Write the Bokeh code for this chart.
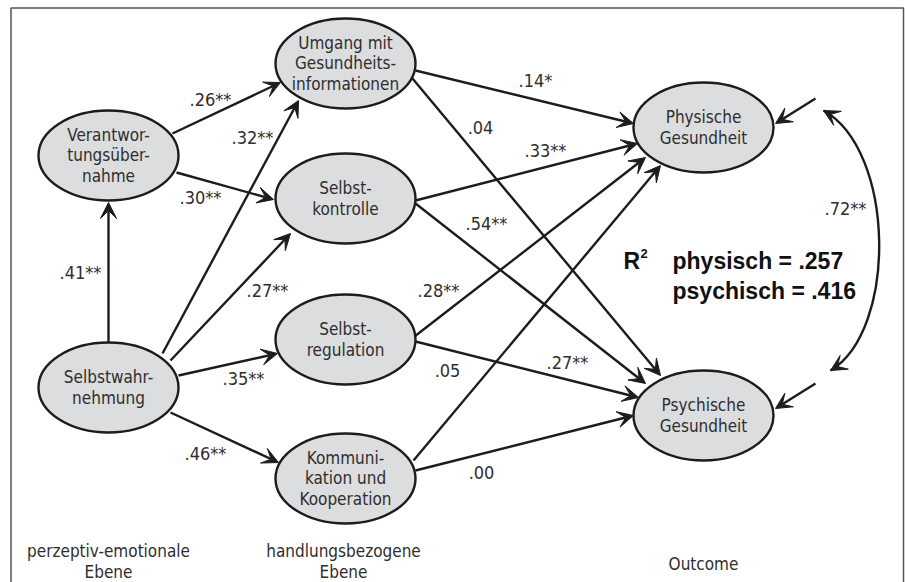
from bokeh.plotting import figure
from bokeh.models import Range1d, Arrow, VeeHead, ColumnDataSource
from bokeh.core.properties import value
from bokeh.embed import file_html
from bokeh.resources import INLINE

# ---------------- data ----------------
node_keys = ["V", "U", "K", "R", "W", "C", "P", "Q"]
node_labels = ["Verantwor-\ntungsüber-\nnahme",
               "Umgang mit\nGesundheits-\ninformationen",
               "Selbst-\nkontrolle",
               "Selbst-\nregulation",
               "Selbstwahr-\nnehmung",
               "Kommuni-\nkation und\nKooperation",
               "Physische\nGesundheit",
               "Psychische\nGesundheit"]
path_from = ["W", "V", "V", "W", "W", "W", "W", "U", "U", "K", "K", "R", "R", "C", "C"]
path_to = ["V", "U", "K", "U", "K", "R", "C", "P", "Q", "P", "Q", "P", "Q", "P", "Q"]
path_coef = [".41**", ".26**", ".30**", ".32**", ".27**", ".35**", ".46**",
             ".14*", ".04", ".33**", ".54**", ".28**", ".27**", ".05", ".00"]
correlation_coef = ".72**"
r2_title = ["R", "2"]
r2_labels = ["physisch = .257", "psychisch = .416"]
level_labels = ["perzeptiv-emotionale\nEbene", "handlungsbezogene\nEbene", "Outcome"]

# ---------------- layout (screen pixels) ----------------
node_pos = {"V": (108, 155), "U": (345, 63), "K": (345, 198), "R": (345, 339),
            "W": (108, 387), "C": (345, 478), "P": (703, 127), "Q": (703, 415)}
NODE_W, NODE_H = 140, 90
# anchor offsets (start on source ellipse, end on target ellipse)
edge_off = [((0, -45), (0, 47)), ((64, -22), (-65, 19)), ((68, 17), (-72, 1)),
            ((54, -34), (-47, 37)), ((62, -27), (-55, 35)), ((70, -12), (-68, 14)),
            ((62, 25), (-67, -16)), ((70, 7), (-70, -4)), ((67, 15), (-43, -40)),
            ((70, 2), (-66, 16)), ((70, 5), (-58, -32)), ((69, -3), (-58, 30)),
            ((70, 2), (-65, -18)), ((68, -18), (-43, 38)), ((70, -8), (-70, 0))]
coef_pos = [(80, 272), (210, 99), (200, 197), (252, 137), (267, 290), (243, 378),
            (205, 453), (535, 80), (480, 127), (545, 150), (486, 223), (438, 290),
            (567, 362), (447, 370), (481, 472)]
level_pos = [(108, 561), (343, 561), (703, 563)]

FONT = value("DejaVu Sans Condensed")
INK = "#1c1c1c"
TXT = "#2e2e2e"

p = figure(width=905, height=582, x_range=Range1d(0, 905), y_range=Range1d(582, 0),
           output_backend="svg", toolbar_location=None, min_border=0,
           x_axis_location=None, y_axis_location=None)
p.grid.visible = False
p.outline_line_color = None
p.background_fill_color = "white"

# frame
p.line([10.5, 10.5, 903, 903], [582, 7.5, 7.5, 582], line_color="#555555", line_width=1.5)

def add_arrow(x0, y0, x1, y1):
    p.add_layout(Arrow(end=VeeHead(size=16, fill_color=INK, line_color=INK, line_width=1),
                       x_start=x0, y_start=y0, x_end=x1, y_end=y1,
                       line_color=INK, line_width=2.4))

# paths
for (f, t), ((sx, sy), (ex, ey)) in zip(zip(path_from, path_to), edge_off):
    fx, fy = node_pos[f]
    tx, ty = node_pos[t]
    add_arrow(fx + sx, fy + sy, tx + ex, ty + ey)

# residual arrows
for k, (s, e) in zip(["P", "Q"], [((112, -29), (72, -4)), ((112, -32), (72, -7))]):
    cx, cy = node_pos[k]
    add_arrow(cx + s[0], cy + s[1], cx + e[0], cy + e[1])

# correlation curve between residuals
px, py = node_pos["P"]
qx, qy = node_pos["Q"]
x0, y0 = px + 120, py - 17
x3, y3 = qx + 127, qy - 45
c0 = (895, 150)
c1 = (897, 330)
p.bezier(x0=[x0], y0=[y0], x1=[x3], y1=[y3], cx0=[c0[0]], cy0=[c0[1]],
         cx1=[c1[0]], cy1=[c1[1]], line_color=INK, line_width=2.4)
for (ax, ay), (bx, by) in [((x0, y0), c0), ((x3, y3), c1)]:
    add_arrow(ax + (bx - ax) * 0.04, ay + (by - ay) * 0.04, ax, ay)

# nodes
nsrc = ColumnDataSource(dict(x=[node_pos[k][0] for k in node_keys],
                             y=[node_pos[k][1] for k in node_keys],
                             label=node_labels))
p.ellipse(x="x", y="y", width=NODE_W, height=NODE_H, source=nsrc,
          fill_color="#dcdddf", line_color=INK, line_width=2.4)
p.text(x="x", y="y", text="label", source=nsrc, text_font=FONT, text_font_size="17px",
       text_align="center", text_baseline="middle", text_color=TXT, text_line_height=1.02)

# coefficients
csrc = ColumnDataSource(dict(x=[c[0] for c in coef_pos], y=[c[1] for c in coef_pos],
                             label=path_coef))
p.text(x="x", y="y", text="label", source=csrc, text_font=FONT, text_font_size="18px",
       text_align="center", text_baseline="middle", text_color=TXT)
p.text(x=[845], y=[208], text=[correlation_coef], text_font=FONT, text_font_size="18px",
       text_align="center", text_baseline="middle", text_color=TXT)

# R^2 block
BOLD = value("Liberation Sans")
p.text(x=[623], y=[260], text=[r2_title[0]], text_font=BOLD, text_font_style="bold",
       text_font_size="23px", text_align="left", text_baseline="middle", text_color="#111111")
p.text(x=[640], y=[253], text=[r2_title[1]], text_font=BOLD, text_font_style="bold",
       text_font_size="13px", text_align="left", text_baseline="middle", text_color="#111111")
p.text(x=[672, 672], y=[260, 290], text=r2_labels, text_font=BOLD, text_font_style="bold",
       text_font_size="23px", text_align="left", text_baseline="middle", text_color="#111111")

# level labels
lsrc = ColumnDataSource(dict(x=[l[0] for l in level_pos], y=[l[1] for l in level_pos],
                             label=level_labels))
p.text(x="x", y="y", text="label", source=lsrc, text_font=FONT, text_font_size="17px",
       text_align="center", text_baseline="middle", text_color=TXT, text_line_height=1.02)

open("out.html", "w").write(file_html(p, INLINE))
